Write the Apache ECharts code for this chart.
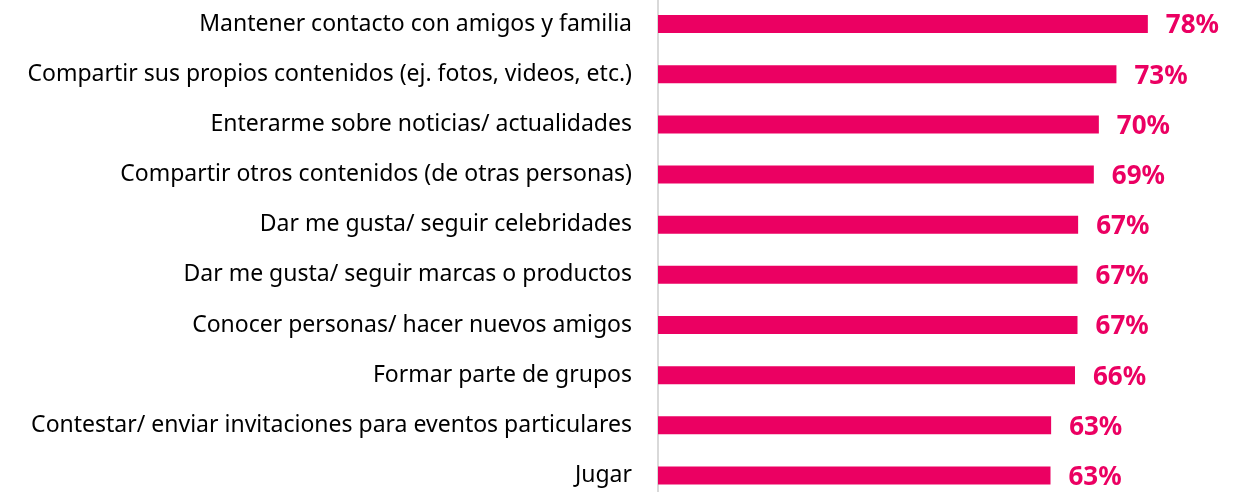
<!DOCTYPE html>
<html><head><meta charset="utf-8">
<script src="https://cdn.jsdelivr.net/npm/echarts@6/dist/echarts.min.js"></script>
<style>html,body{margin:0;padding:0;background:#fff;overflow:hidden;width:1245px;height:492px}#c{position:absolute;left:0;top:-1px;width:1245px;height:502px}</style>
</head><body><div id="c"></div>
<script>
const categories = [
  "Mantener contacto con amigos y familia",
  "Compartir sus propios contenidos (ej. fotos, videos, etc.)",
  "Enterarme sobre noticias/ actualidades",
  "Compartir otros contenidos (de otras personas)",
  "Dar me gusta/ seguir celebridades",
  "Dar me gusta/ seguir marcas o productos",
  "Conocer personas/ hacer nuevos amigos",
  "Formar parte de grupos",
  "Contestar/ enviar invitaciones para eventos particulares",
  "Jugar"
];
const values = [78, 73, 70.2, 69.4, 66.9, 66.8, 66.8, 66.4, 62.6, 62.5];

const chart = echarts.init(document.getElementById('c'));
chart.setOption({
  animation: false,
  grid: {left: 658, top: 0, right: 21.8, bottom: 0.5},
  xAxis: {type: 'value', min: 0, max: 90, show: false},
  yAxis: {
    type: 'category', data: categories, inverse: true,
    axisLine: {show: true, lineStyle: {color: '#D9D9D9', width: 2}},
    axisTick: {show: false},
    axisLabel: {margin: 26, color: '#000', fontFamily: 'Noto Sans', fontSize: 23}
  },
  series: [{
    type: 'bar', data: values, barWidth: 18,
    itemStyle: {color: '#EB0062'},
    label: {
      show: true, position: 'right', distance: 18, offset: [0, 2],
      formatter: p => Math.round(p.value) + '%',
      color: '#EB0062', fontFamily: 'Noto Sans', fontWeight: 'bold', fontSize: 26
    }
  }]
});
</script></body></html>
